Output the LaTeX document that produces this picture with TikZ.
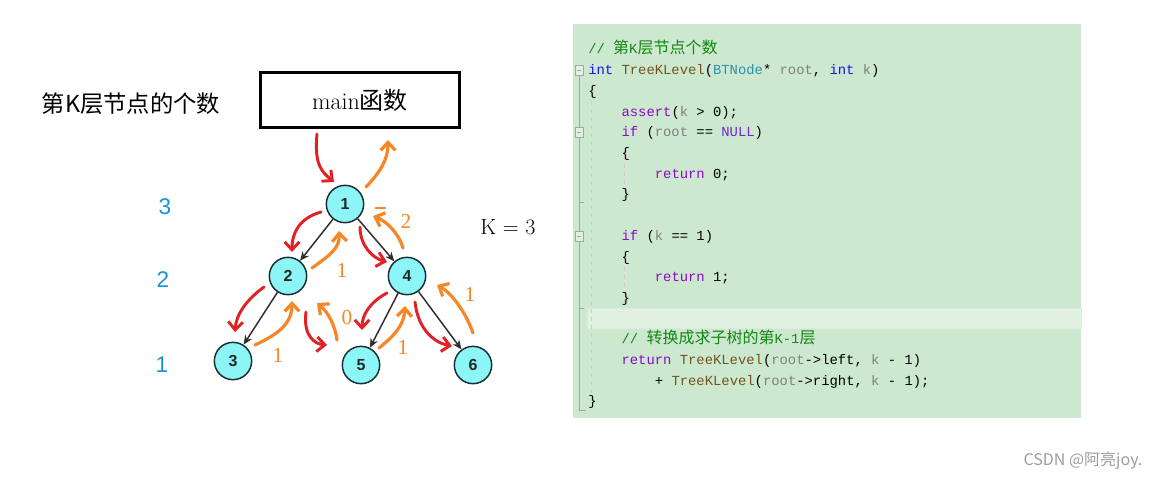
\documentclass[tikz,border=0pt]{standalone}
\usepackage{fontspec}
\usepackage{tikz}
\usetikzlibrary{arrows.meta}
\newfontfamily\cjk{Noto Sans CJK SC}
\newfontfamily\codefont{Liberation Mono}
\newfontfamily\sansnum{Liberation Sans}
\newfontfamily\serifnum{Liberation Serif}
\definecolor{nodecyan}{RGB}{140,246,246}
\definecolor{treeline}{RGB}{25,45,50}
\definecolor{callred}{RGB}{226,32,38}
\definecolor{retorange}{RGB}{246,134,38}
\definecolor{lvlblue}{RGB}{25,150,210}
\definecolor{codebg}{RGB}{204,232,207}
\definecolor{codehl}{RGB}{224,241,226}
\definecolor{kwblue}{RGB}{20,20,230}
\definecolor{kwpurple}{RGB}{143,8,196}
\definecolor{nullcol}{RGB}{111,40,210}
\definecolor{fnbrown}{RGB}{116,83,31}
\definecolor{tyteal}{RGB}{43,145,175}
\definecolor{prgray}{RGB}{128,128,128}
\definecolor{cmgreen}{RGB}{20,135,20}
\definecolor{foldgray}{RGB}{165,165,165}
\newcommand{\kb}[1]{\textcolor{kwblue}{#1}}
\newcommand{\kp}[1]{\textcolor{kwpurple}{#1}}
\newcommand{\fnc}[1]{\textcolor{fnbrown}{#1}}
\newcommand{\prm}[1]{\textcolor{prgray}{#1}}
\newcommand{\ccjk}[1]{{\cjk\fontsize{12}{12}\selectfont #1}}
\tikzset{
  tn/.style={circle, draw=treeline, line width=1.1pt, fill=nodecyan, minimum size=28pt,
    inner sep=0pt, font=\sansnum\bfseries\fontsize{12}{12}\selectfont, text=black!85},
  edge/.style={-{Stealth[length=7pt,width=6pt]}, draw=black!82, line width=1.1pt},
  call/.style={-{Straight Barb[length=6pt,width=11pt]}, draw=callred, line width=2.2pt, line cap=round},
  ret/.style={-{Straight Barb[length=6pt,width=11pt]}, draw=retorange, line width=2.4pt, line cap=round},
  lvl/.style={text=lvlblue, font=\sansnum\fontsize{17}{17}\selectfont},
  rn/.style={text=retorange, font=\serifnum\fontsize{16}{16}\selectfont},
  cl/.style={anchor=base west, inner sep=0pt, font=\codefont\fontsize{10.4}{12}\selectfont},
  fold/.style={draw=foldgray, line width=0.6pt}
}

\begin{document}
\begin{tikzpicture}[x=0.75pt, y=-0.75pt]
\fill[white] (0,0) rectangle (1150,479);
\useasboundingbox (0,0) rectangle (1150,479);

\node (title) at (131,104) {\cjk\fontsize{17.5}{17.5}\selectfont 第K层节点的个数};
\node[draw, line width=2.6pt, minimum width=148.9pt, minimum height=40.9pt, inner sep=0pt,
  font=\fontsize{18}{18}\selectfont] (mainbox) at (360,100) {main{\cjk 函数}};

\node[lvl] (l3) at (165,207) {3};
\node[lvl] (l2) at (163,280) {2};
\node[lvl] (l1) at (162,365) {1};

\node[tn] (n1) at (345,204) {1};
\node[tn] (n2) at (288,276) {2};
\node[tn] (n4) at (407,276) {4};
\node[tn] (n3) at (233,361) {3};
\node[tn] (n5) at (361,365) {5};
\node[tn] (n6) at (473,365) {6};
\draw[edge] (n1) -- (n2);
\draw[edge] (n1) -- (n4);
\draw[edge] (n2) -- (n3);
\draw[edge] (n4) -- (n5);
\draw[edge] (n4) -- (n6);

\node[font=\fontsize{16.5}{16.5}\selectfont] (kval) at (508,227) {K = 3};

\coordinate (ra0) at (317,134);  \coordinate (ra1) at (334,182);
\coordinate (rb0) at (321,212);  \coordinate (rb1) at (292,252);
\coordinate (rc0) at (360,227);  \coordinate (rc1) at (387,262);
\coordinate (rd0) at (264,287);  \coordinate (rd1) at (235,332);
\coordinate (re0) at (306,312);  \coordinate (re1) at (327,345);
\coordinate (rf0) at (387,293);  \coordinate (rf1) at (362,330);
\coordinate (rg0) at (415,302);  \coordinate (rg1) at (452,346);
\draw[call] (ra0) .. controls (314,165) and (322,172) .. (ra1);
\draw[call] (rb0) .. controls (300,218) and (292,232) .. (rb1);
\draw[call] (rc0) .. controls (360,245) and (372,258) .. (rc1);
\draw[call] (rd0) .. controls (246,300) and (236,315) .. (rd1);
\draw[call] (re0) .. controls (303,335) and (314,344) .. (re1);
\draw[call] (rf0) .. controls (370,302) and (362,315) .. (rf1);
\draw[call] (rg0) .. controls (418,330) and (435,343) .. (rg1);

\coordinate (oa0) at (366,187);  \coordinate (oa1) at (388,140);
\coordinate (ob0) at (312,268);  \coordinate (ob1) at (339,231);
\coordinate (oc0) at (403,248);  \coordinate (oc1) at (373,216);
\coordinate (od0) at (255,345);  \coordinate (od1) at (292,301);
\coordinate (oe0) at (337,340);  \coordinate (oe1) at (317,303);
\coordinate (of0) at (379,348);  \coordinate (of1) at (405,306);
\coordinate (og0) at (473,333);  \coordinate (og1) at (437,285);
\draw[ret] (oa0) .. controls (380,172) and (388,160) .. (oa1);
\draw[ret] (ob0) .. controls (330,255) and (340,248) .. (ob1);
\draw[ret] (oc0) .. controls (398,232) and (386,221) .. (oc1);
\draw[ret] (od0) .. controls (276,335) and (292,325) .. (od1);
\draw[ret] (oe0) .. controls (335,325) and (328,312) .. (oe1);
\draw[ret] (of0) .. controls (395,335) and (404,325) .. (of1);
\draw[ret] (og0) .. controls (465,310) and (450,292) .. (og1);
\draw[retorange, line width=1.5pt] (375,208) -- (386,208);
\node[rn] (vb) at (342,270) {1};
\node[rn] (vc) at (406,221) {2};
\node[rn] (vd) at (278,355) {1};
\node[rn] (ve) at (347,318) {0};
\node[rn] (vf) at (403,347) {1};
\node[rn] (vg) at (470,294) {1};

% code panel
\fill[codebg] (573,24) rectangle (1081,418);
\filldraw[fill=codehl, draw=black!10, line width=0.6pt] (587,308) rectangle (1081,328);
\draw[fold] (579,75) -- (579,127) (579,137) -- (579,231) (579,241) -- (579,410) -- (586,410);
\draw[fold] (579,202) -- (584,202) (579,308) -- (584,308);
\foreach \fy in {70,132,236}
  \draw[fold, fill=codebg!60!white] (575,\fy-5) rectangle (583,\fy+5) (577,\fy) -- (581,\fy);
\draw[black!20, dashed, line width=0.5pt] (591,85) -- (591,404);
\draw[black!20, dashed, line width=0.5pt] (624,148) -- (624,198) (624,251) -- (624,302);

\node[cl, text=cmgreen] (c0) at (588,53) {// \ccjk{第}K\ccjk{层节点个数}};
\node[cl] (c1) at (588,74.7) {\kb{int} \fnc{TreeKLevel}(\textcolor{tyteal}{BTNode}* \prm{root}, \kb{int} \prm{k})};
\node[cl] (c2) at (588,95.4) {\{};
\node[cl] (c3) at (621.3,116.1) {\kp{assert}(\prm{k} > 0);};
\node[cl] (c4) at (621.3,136.8) {\kp{if} (\prm{root} == \textcolor{nullcol}{NULL})};
\node[cl] (c5) at (621.3,157.5) {\{};
\node[cl] (c6) at (654.6,178.2) {\kp{return} 0;};
\node[cl] (c7) at (621.3,198.9) {\}};
\node[cl] (c9) at (621.3,240.3) {\kp{if} (\prm{k} == 1)};
\node[cl] (c10) at (621.3,261) {\{};
\node[cl] (c11) at (654.6,281.7) {\kp{return} 1;};
\node[cl] (c12) at (621.3,302.4) {\}};
\node[cl, text=cmgreen] (c14) at (621.3,343.8) {// \ccjk{转换成求子树的第}K-1\ccjk{层}};
\node[cl] (c15) at (621.3,364.5) {\kp{return} \fnc{TreeKLevel}(\prm{root}->left, \prm{k} - 1)};
\node[cl] (c16) at (654.6,385.2) {+ \fnc{TreeKLevel}(\prm{root}->right, \prm{k} - 1);};
\node[cl] (c17) at (588,405.9) {\}};

\node[text=black!38, font=\cjk\fontsize{12}{12}\selectfont] (mark) at (1083,461) {CSDN @阿亮joy.};
\end{tikzpicture}
\end{document}
